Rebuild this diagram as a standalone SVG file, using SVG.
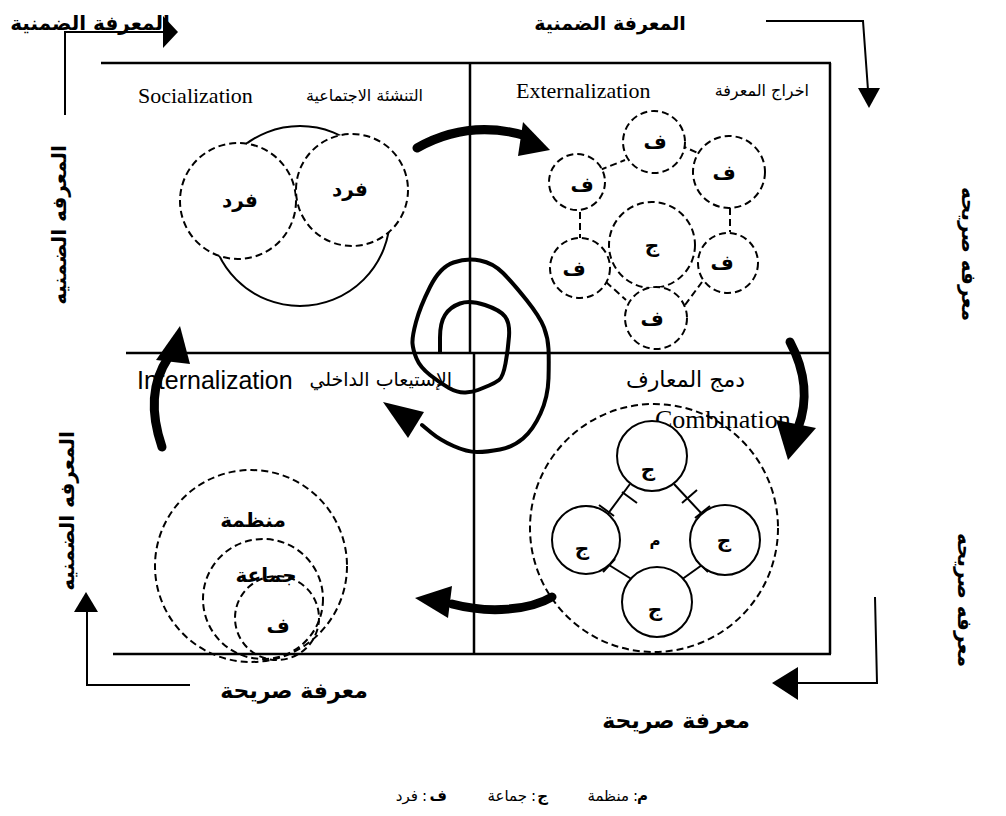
<svg xmlns="http://www.w3.org/2000/svg" width="1006" height="816" viewBox="0 0 1006 816">
  <style>
    .ln { stroke: #000; stroke-width: 2.5; fill: none; }
    .thin { stroke: #000; stroke-width: 2; fill: none; }
    .dash { stroke: #000; stroke-width: 2; stroke-dasharray: 7 4; fill: #fff; }
    .dashn { stroke: #000; stroke-width: 2; stroke-dasharray: 7 4; fill: none; }
    .solid { stroke: #000; stroke-width: 2; fill: #fff; }
    .thick { stroke: #000; stroke-width: 9; fill: none; stroke-linecap: round; }
    .spiral { stroke: #000; stroke-width: 4; fill: none; stroke-linejoin: round; stroke-linecap: round; }
    .head { fill: #000; }
    .lat { font-family: "Liberation Serif", "Times New Roman", serif; font-size: 22px; fill: #000; }
    .sans { font-family: "Liberation Sans", Arial, sans-serif; font-size: 25px; fill: #000; }
    .ar { font-family: "DejaVu Sans", sans-serif; font-size: 16px; fill: #000; }
    .arb { font-family: "DejaVu Sans", sans-serif; font-size: 20px; font-weight: bold; fill: #000; }
    .big { font-size: 22px; }
    .lbl { font-family: "DejaVu Sans", sans-serif; font-size: 20px; font-weight: bold; fill: #000; text-anchor: middle; }
    .key { font-family: "DejaVu Sans", sans-serif; font-size: 15px; fill: #000; text-anchor: end; }
  </style>

  <!-- outer frame of the four quadrants -->
  <g id="frame">
    <line class="ln" x1="101" y1="63" x2="831" y2="63"/>
    <line class="ln" x1="830" y1="63" x2="830" y2="654"/>
    <line class="ln" x1="470" y1="63" x2="470" y2="353"/>
    <line class="ln" x1="474" y1="353" x2="474" y2="654"/>
    <line class="ln" x1="126" y1="353" x2="831" y2="353"/>
    <line class="ln" x1="113" y1="654" x2="831" y2="654"/>
  </g>

  <!-- corner labels -->
  <g id="label-top-left">
    <text class="arb" x="90" y="30" text-anchor="middle">المعرفة الضمنية</text>
  </g>
  <g id="label-top">
    <text class="arb" x="610" y="30" text-anchor="middle" style="font-size:19px">المعرفة الضمنية</text>
  </g>
  <g id="label-left-top">
    <text class="arb" transform="translate(66,225) rotate(-90)" text-anchor="middle">المعرفه الضمنيه</text>
  </g>
  <g id="label-left-bottom">
    <text class="arb" transform="translate(74,511) rotate(-90)" text-anchor="middle">المعرفه الضمنيه</text>
  </g>
  <g id="label-right-top">
    <text class="arb" transform="translate(962,254) rotate(90)" text-anchor="middle">معرفه صريحه</text>
  </g>
  <g id="label-right-bottom">
    <text class="arb" transform="translate(958,600) rotate(90)" text-anchor="middle">معرفه صريحه</text>
  </g>
  <g id="label-bottom-left">
    <text class="arb big" x="294" y="698" text-anchor="middle">معرفة صريحة</text>
  </g>
  <g id="label-bottom-right">
    <text class="arb big" x="676" y="728" text-anchor="middle">معرفة صريحة</text>
  </g>

  <g id="connectors">
    <!-- bent arrows around the frame -->
    <polyline class="thin" points="65,115 65,32 165,32"/>
    <polygon class="head" points="163,16 178,32 163,48"/>
    <polyline class="thin" points="766,21 863,21 868,90"/>
    <polygon class="head" points="858,88 880,88 869,108"/>
    <polyline class="thin" points="190,685 87,685 87,612"/>
    <polygon class="head" points="74,612 98,612 86,592"/>
    <polyline class="thin" points="875,597 877,683 795,683"/>
    <polygon class="head" points="798,667 798,700 772,683"/>

    <!-- thick cycle arrows between the quadrants -->
    <path class="thick" d="M417,148 Q470,118 530,137"/>
    <polygon class="head" points="523,122 550,150 518,156"/>
    <path class="thick" d="M790,342 C806,372 808,402 798,428"/>
    <polygon class="head" points="776,420 816,428 788,460"/>
    <path class="thick" d="M552,597 C530,610 490,614 452,604"/>
    <polygon class="head" points="452,586 448,618 415,598"/>
    <path class="thick" d="M162,447 C150,412 152,382 168,358"/>
    <polygon class="head" points="156,360 190,364 180,326"/>

    <!-- central spiral -->
    <path class="spiral" d="M440,352 L440,337.5 Q440,323 445,315 Q450,307 460,303.5 Q470,300 485,305 Q500,310 505,316.5 Q510,323 509,336.5 Q508,350 505.5,363.5 Q503,377 499,380 Q495,383 489,385.5 Q483,388 478,390 Q473,392 465.5,392.5 Q458,393 449,388 Q440,383 430,375 Q420,367 416.5,358.5 Q413,350 412.5,343.5 Q412,337 416,322 Q420,307 430,287 Q440,267 453.5,262.5 Q467,258 480,260.5 Q493,263 503,273 Q513,283 526.5,300 Q540,317 544,327.5 Q548,338 548.5,349 Q549,360 548.5,378.5 Q548,397 540.5,413.5 Q533,430 523,438.5 Q513,447 500,449.5 Q487,452 477,452 Q467,452 453.5,446 Q440,440 431,432.5 L422,425"/>
    <polygon class="head" points="383,402 424,412 408,438"/>
  </g>

  <!-- Socialization quadrant -->
  <g id="socialization">
    <text class="lat" x="138" y="103">Socialization</text>
    <text class="ar" x="423" y="101" text-anchor="end">التنشئة الاجتماعية</text>
    <circle class="thin" cx="300" cy="216" r="90"/>
    <circle class="dash" cx="238" cy="201" r="58"/>
    <circle class="dash" cx="352" cy="190" r="56"/>
    <text class="lbl" x="240" y="207">فرد</text>
    <text class="lbl" x="350" y="196">فرد</text>
  </g>

  <!-- Externalization quadrant -->
  <g id="externalization">
    <text class="lat" x="516" y="98">Externalization</text>
    <text class="ar" x="809" y="96" text-anchor="end">اخراج المعرفة</text>
    <line class="dashn" x1="680" y1="145" x2="700" y2="154"/>
    <line class="dashn" x1="600" y1="170" x2="625" y2="160"/>
    <line class="dashn" x1="580" y1="212" x2="580" y2="238"/>
    <line class="dashn" x1="606" y1="282" x2="626" y2="300"/>
    <line class="dashn" x1="685" y1="305" x2="702" y2="282"/>
    <line class="dashn" x1="730" y1="208" x2="730" y2="232"/>
    <circle class="dash" cx="652" cy="245" r="43"/>
    <circle class="dash" cx="654" cy="142" r="31"/>
    <circle class="dash" cx="729" cy="172" r="36"/>
    <circle class="dash" cx="577" cy="182" r="28"/>
    <circle class="dash" cx="580" cy="268" r="30"/>
    <circle class="dash" cx="656" cy="318" r="31"/>
    <circle class="dash" cx="728" cy="263" r="30"/>
    <text class="lbl" x="652" y="252">ج</text>
    <text class="lbl" x="655" y="149">ف</text>
    <text class="lbl" x="724" y="180">ف</text>
    <text class="lbl" x="582" y="192">ف</text>
    <text class="lbl" x="574" y="276">ف</text>
    <text class="lbl" x="652" y="326">ف</text>
    <text class="lbl" x="722" y="270">ف</text>
  </g>

  <!-- Combination quadrant -->
  <g id="combination">
    <circle class="dashn" cx="654" cy="528" r="124"/>
    <text class="ar" x="745" y="387" text-anchor="end" style="font-size:22px">دمج المعارف</text>
    <text class="lat" x="655" y="428" style="font-size:26px">Combination</text>
    <line class="thin" x1="630" y1="484" x2="607" y2="515"/>
    <line class="thin" x1="674" y1="484" x2="702" y2="514"/>
    <line class="thin" x1="609" y1="565" x2="633" y2="580"/>
    <line class="thin" x1="702" y1="565" x2="681" y2="580"/>
    <line class="thin" x1="622" y1="492" x2="637" y2="503"/>
    <line class="thin" x1="599" y1="505" x2="614" y2="516"/>
    <line class="thin" x1="682" y1="503" x2="697" y2="490"/>
    <line class="thin" x1="695" y1="518" x2="710" y2="506"/>
    <line class="thin" x1="603" y1="572" x2="615" y2="559"/>
    <line class="thin" x1="628" y1="587" x2="640" y2="574"/>
    <line class="thin" x1="696" y1="560" x2="708" y2="572"/>
    <line class="thin" x1="675" y1="574" x2="687" y2="586"/>
    <circle class="solid" cx="652" cy="456" r="35"/>
    <circle class="solid" cx="586" cy="540" r="34"/>
    <circle class="solid" cx="725" cy="540" r="35"/>
    <circle class="solid" cx="657" cy="602" r="35"/>
    <text class="lbl" x="648" y="476">ج</text>
    <text class="lbl" x="582" y="555">ج</text>
    <text class="lbl" x="724" y="547">ج</text>
    <text class="lbl" x="655" y="616">ج</text>
    <text class="lbl" x="655" y="546" style="font-size:15px">م</text>
  </g>

  <!-- Internalization quadrant -->
  <g id="internalization">
    <text class="sans" x="137" y="389">Internalization</text>
    <text class="ar" x="452" y="386" text-anchor="end" style="font-size:19px">الإستيعاب الداخلي</text>
    <circle class="dashn" cx="251" cy="566" r="96"/>
    <circle class="dashn" cx="263" cy="599" r="60"/>
    <circle class="dashn" cx="277" cy="618" r="42"/>
    <text class="lbl" x="253" y="527">منظمة</text>
    <text class="lbl" x="266" y="582">جماعة</text>
    <text class="lbl" x="278" y="633">ف</text>
  </g>

  <!-- key to the letters, read right to left -->
  <g id="legend">
    <text class="key" x="648" y="801" font-weight="bold">م</text>
    <text class="key" x="638" y="801">:</text>
    <text class="key" x="629" y="801">منظمة</text>
    <text class="key" x="548" y="801" font-weight="bold">ج</text>
    <text class="key" x="536" y="801">:</text>
    <text class="key" x="527" y="801">جماعة</text>
    <text class="key" x="447" y="801" font-weight="bold">ف</text>
    <text class="key" x="427" y="801">:</text>
    <text class="key" x="418" y="801">فرد</text>
  </g>
</svg>
